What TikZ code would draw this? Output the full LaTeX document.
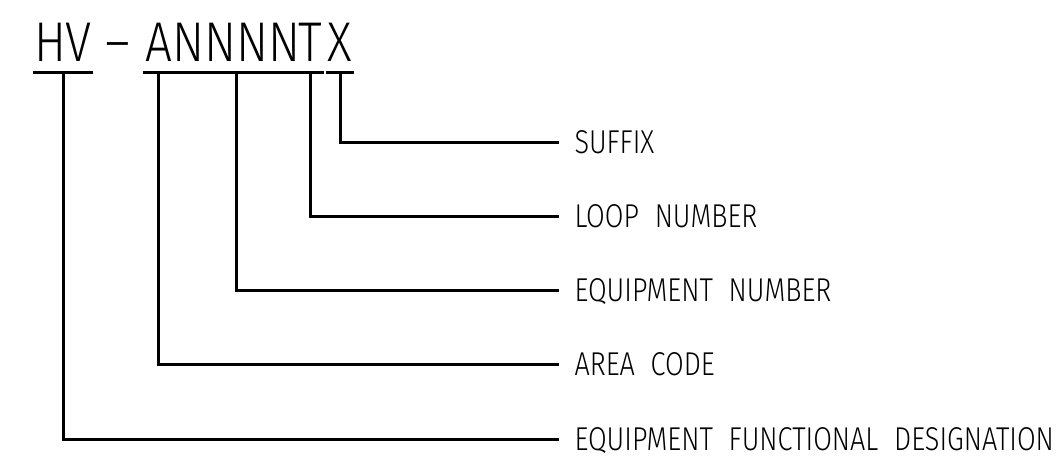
\documentclass[tikz,border=0pt]{standalone}
\usepackage{fontspec}
\setmainfont{Fira Sans Light}[FakeStretch=0.85, WordSpace=2]
\newfontfamily\tagfont{Fira Sans Light}[FakeStretch=0.82, WordSpace=2.1]
\begin{document}
\begin{tikzpicture}[x=1pt, y=-1pt, line width=3pt,
  code/.style={anchor=south, inner xsep=0pt, inner ysep=9.5pt, text height=39pt, text depth=0pt, font=\fontsize{56}{56}\selectfont},
  tag/.style={anchor=west, inner xsep=14pt, inner ysep=0pt, text height=23pt, text depth=0pt, font=\tagfont\fontsize{33}{33}\selectfont}]
\useasboundingbox (0,0) rectangle (1061,458);
% the tag code, one node per group
\node[code, minimum width=52pt] (cHV) at (63,72) {HV};
\node[code] (cDash) at (117.5,72) {--};
\node[code, minimum width=29pt] (cA) at (158.5,72) {A};
\node[code, minimum width=111pt] (cN) at (236.5,72) {NNNN};
\node[code, minimum width=23pt] (cT) at (310.5,72) {T};
\node[code, minimum width=22pt] (cX) at (340,72) {X};
% labels
\node[tag] (suffix) at (559,142) {SUFFIX};
\node[tag] (loopno) at (559,216) {LOOP NUMBER};
\node[tag] (equipno) at (559,290) {EQUIPMENT NUMBER};
\node[tag] (areacode) at (559,364) {AREA CODE};
\node[tag] (funcdes) at (559,439) {EQUIPMENT FUNCTIONAL DESIGNATION};
% underlines
\foreach \g in {cHV,cA,cN,cT,cX}
  \draw (\g.south west) -- (\g.south east);
% leaders
\draw (cX.south) |- (suffix.west);
\draw (cT.south) |- (loopno.west);
\draw (cN.south) |- (equipno.west);
\draw (cA.south) |- (areacode.west);
\draw (cHV.south) |- (funcdes.west);
\end{tikzpicture}
\end{document}
